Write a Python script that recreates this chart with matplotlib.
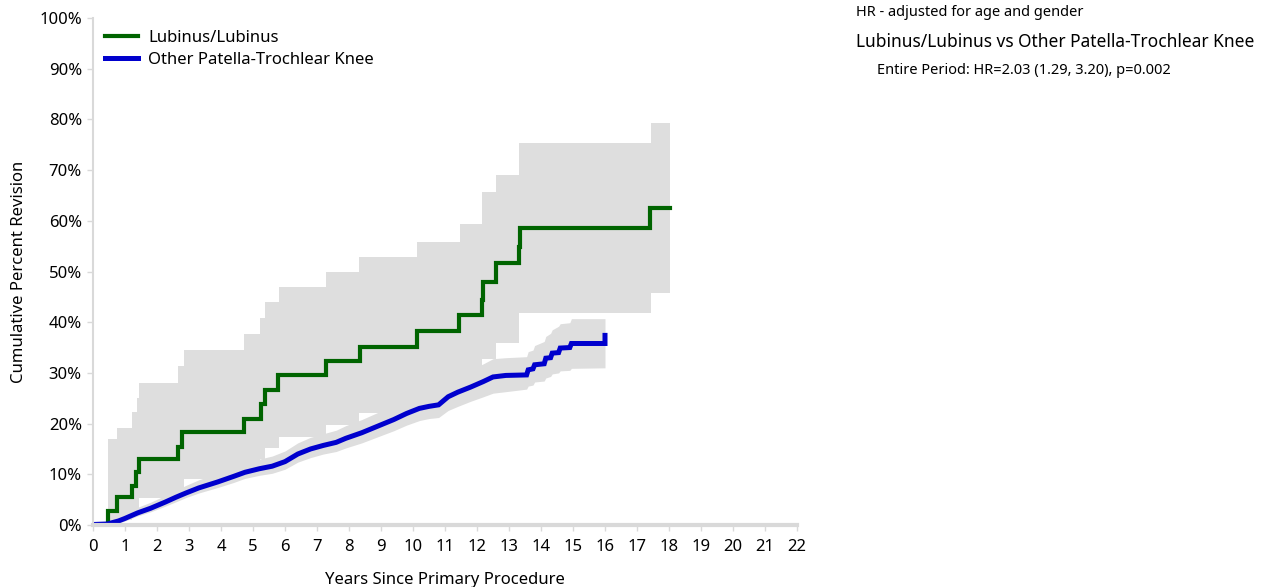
import matplotlib
matplotlib.use("Agg")
import matplotlib.pyplot as plt
from matplotlib.ticker import FuncFormatter

plt.rcParams['font.family'] = ['Noto Sans', 'DejaVu Sans']

# ---- data ----
green_t = [0, 0.48, 0.76, 1.21, 1.33, 1.43, 2.67, 2.78, 4.73, 5.24, 5.37, 5.79,
           7.29, 8.34, 10.11, 11.45, 12.15, 12.19, 12.59, 13.31, 13.33, 17.42, 18.03]
green_v = [0, 2.8, 5.5, 7.7, 10.4, 13.0, 15.4, 18.3, 21.0, 23.9, 26.7, 29.5,
           32.4, 35.2, 38.2, 41.4, 44.4, 48.0, 51.6, 54.9, 58.5, 62.6, 62.6]

green_ci_t = [0.48, 0.76, 1.21, 1.37, 1.45, 2.67, 2.83, 4.73, 5.22, 5.39, 5.82,
              7.29, 8.32, 10.11, 11.47, 12.15, 12.59, 13.31, 17.44, 18.03]
green_hi = [17.0, 19.1, 22.2, 25.1, 28.1, 31.4, 34.5, 37.7, 40.8, 43.9, 46.9,
            50.0, 52.9, 55.9, 59.3, 65.7, 69.0, 75.4, 79.2, 79.2]
green_lo = [0.4, 0.9, 1.6, 2.6, 5.3, 5.3, 9.0, 11.0, 13.0, 15.1, 17.4,
            19.7, 22.0, 24.5, 27.0, 32.7, 35.8, 41.9, 45.8, 45.8]

blue_t = [0.0, 0.45, 0.8, 1.0, 1.4, 1.8, 2.25, 2.6, 2.9, 3.3, 3.9, 4.4, 4.75,
          5.2, 5.6, 6.0, 6.4, 6.8, 7.2, 7.6, 7.9, 8.4, 8.9, 9.4, 9.8, 10.2, 10.5,
          10.8, 11.1, 11.4, 11.8, 12.2, 12.5, 12.9, 13.55, 13.6, 13.75, 13.8,
          14.1, 14.15, 14.3, 14.35, 14.55, 14.6, 14.9, 14.95, 16.0, 16.0]
blue_v = [0.1, 0.2, 0.8, 1.3, 2.4, 3.3, 4.5, 5.5, 6.3, 7.3, 8.5, 9.6, 10.4,
          11.1, 11.6, 12.5, 14.0, 15.0, 15.7, 16.3, 17.1, 18.2, 19.5, 20.8, 22.0,
          23.0, 23.4, 23.7, 25.3, 26.2, 27.2, 28.3, 29.2, 29.5, 29.6, 30.6, 30.8,
          31.6, 31.8, 32.9, 33.0, 33.9, 34.0, 34.9, 35.0, 35.8, 35.8, 37.4]
blue_lo = [0.0, 0.0, 0.4, 0.8, 1.8, 2.6, 3.7, 4.6, 5.4, 6.3, 7.4, 8.4, 9.2,
           9.8, 10.2, 11.0, 12.4, 13.3, 14.0, 14.5, 15.2, 16.2, 17.4, 18.6, 19.7,
           20.6, 21.0, 21.2, 22.6, 23.4, 24.4, 25.3, 26.0, 26.3, 26.8, 27.4, 27.6,
           28.2, 28.4, 29.0, 29.3, 29.8, 30.0, 30.4, 30.5, 30.9, 31.0, 31.0]
blue_hi = [0.4, 0.7, 1.6, 2.3, 3.5, 4.5, 5.8, 6.9, 7.8, 8.9, 10.2, 11.4, 12.2,
           13.0, 13.6, 14.6, 16.2, 17.3, 18.0, 18.7, 19.6, 20.8, 22.2, 23.6, 24.9,
           26.0, 26.4, 26.8, 28.6, 29.6, 30.6, 31.8, 32.8, 33.0, 33.2, 34.2, 34.5,
           35.4, 36.2, 37.2, 37.8, 38.5, 39.2, 39.7, 39.9, 40.7, 40.7, 40.7]

x_ticks = list(range(0, 23))
y_ticks = list(range(0, 101, 10))

green = '#006400'
blue = '#0000CD'
ci_col = '#DEDEDE'
axis_col = '#D9D9D9'

fig = plt.figure(figsize=(12.61, 5.87), dpi=100)
ax = fig.add_axes([93/1261, 1-525/587, (797-93)/1261, (525-18)/587])

ax.fill_between(green_ci_t, green_lo, green_hi, step='post', color=ci_col, linewidth=0)
ax.fill_between(blue_t, blue_lo, blue_hi, color=ci_col, linewidth=0)

ax.plot(green_t, green_v, drawstyle='steps-post', color=green, linewidth=3.0,
        label='Lubinus/Lubinus', solid_joinstyle='miter')
ax.plot(blue_t, blue_v, color=blue, linewidth=3.6,
        label='Other Patella-Trochlear Knee', solid_joinstyle='miter')

ax.set_xlim(0, 22)
ax.set_ylim(0, 100)
ax.set_xticks(x_ticks)
ax.set_yticks(y_ticks)
ax.yaxis.set_major_formatter(FuncFormatter(lambda v, p: f'{int(v)}%'))

for s in ['top', 'right']:
    ax.spines[s].set_visible(False)
ax.spines['left'].set_color(axis_col)
ax.spines['left'].set_linewidth(1.5)
ax.spines['bottom'].set_color(axis_col)
ax.spines['bottom'].set_linewidth(3)
ax.tick_params(axis='both', colors=axis_col, labelcolor='#000000', labelsize=12,
               length=4, width=1)
ax.tick_params(axis='y', pad=4)
ax.tick_params(axis='x', pad=6)

ax.set_xlabel('Years Since Primary Procedure', fontsize=12, labelpad=12)
ax.set_ylabel('Cumulative Percent Revision', fontsize=12, labelpad=9)

leg = ax.legend(loc='upper left', bbox_to_anchor=(0.0, 1.0), frameon=False,
                fontsize=12, handlelength=2.0, handletextpad=0.6,
                labelspacing=0.35, borderaxespad=0.3)

fig.text(856/1261, 1-12/587, 'HR - adjusted for age and gender', fontsize=10.5,
         va='center', ha='left')
fig.text(856/1261, 1-42/587, 'Lubinus/Lubinus vs Other Patella-Trochlear Knee',
         fontsize=12.5, va='center', ha='left')
fig.text(877/1261, 1-71/587, 'Entire Period: HR=2.03 (1.29, 3.20), p=0.002',
         fontsize=10.5, va='center', ha='left')

fig.savefig('out.png', dpi=100)
